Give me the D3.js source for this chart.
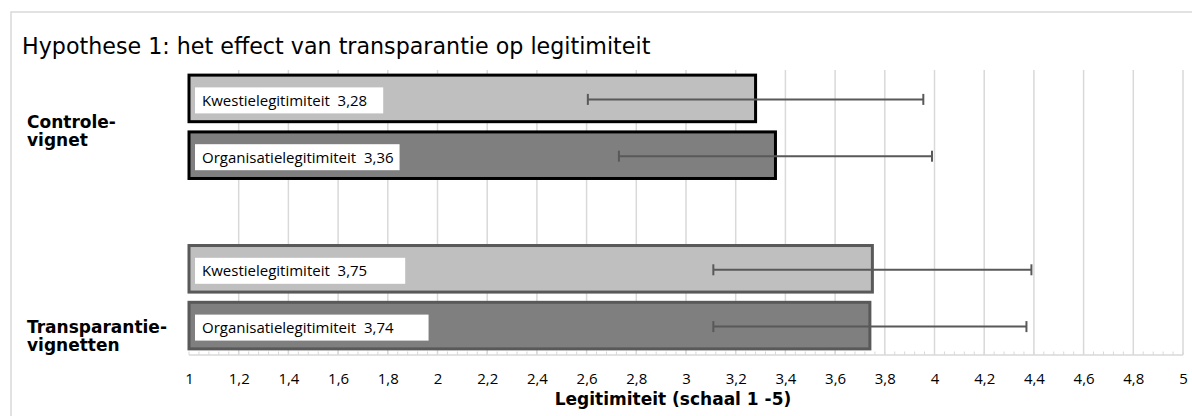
<!DOCTYPE html>
<html>
<head>
<meta charset="utf-8">
<script src="https://cdn.jsdelivr.net/npm/d3@7"></script>
<style>
  html, body { margin: 0; padding: 0; background: #fff; }
  svg { display: block; }
</style>
</head>
<body>
<svg id="chart" width="1192" height="416"></svg>
<script>
// ---- data ----
const title = "Hypothese 1: het effect van transparantie op legitimiteit";
const groups = ["Controle-\nvignet", "Transparantie-\nvignetten"];
const series = ["Kwestielegitimiteit", "Organisatielegitimiteit"];
const controleValues = [3.28, 3.36];
const transparantieValues = [3.75, 3.74];
const controleErrors = [0.675, 0.63];
const transparantieErrors = [0.64, 0.63];
const valueLabels = [["3,28", "3,36"], ["3,75", "3,74"]];
const tickValues = [1, 1.2, 1.4, 1.6, 1.8, 2, 2.2, 2.4, 2.6, 2.8, 3, 3.2, 3.4, 3.6, 3.8, 4, 4.2, 4.4, 4.6, 4.8, 5];
const axisTitle = "Legitimiteit (schaal 1 -5)";

// ---- styles ----
const fills = ["#bfbfbf", "#7f7f7f"];
const groupStroke = ["#000000", "#595959"];
const labelPadRight = [[16, 6], [38, 35]];
const gridColor = "#d9d9d9";
const labelFont = "Open Sans, sans-serif";
const labelSize = 15;

const svg = d3.select("#chart");
const W = 1192, H = 416;
const m = { left: 189, right: 9, top: 70, bottom: 62 };

// frame
svg.append("rect").attr("x", 11).attr("y", 12).attr("width", 1200).attr("height", 420)
  .attr("fill", "#fff").attr("stroke", "#d9d9d9").attr("stroke-width", 1.5);

// title
svg.append("text").attr("x", 22).attr("y", 54)
  .attr("font-family", "DejaVu Sans, Verdana, sans-serif").attr("font-size", 22.2)
  .attr("fill", "#000").text(title);

const x = d3.scaleLinear().domain([1, 5]).range([m.left, W - m.right]);

// build rows
const rows = [];
[controleValues, transparantieValues].forEach((vals, gi) => {
  vals.forEach((v, si) => {
    rows.push({
      key: gi + "-" + si, group: gi, series: si, value: v,
      err: gi === 0 ? controleErrors[si] : transparantieErrors[si],
      label: series[si] + "\u00a0\u00a0" + valueLabels[gi][si]
    });
  });
});
const slots = ["0-0", "0-1", "gap", "1-0", "1-1"];
const y = d3.scaleBand().domain(slots).range([m.top, H - m.bottom]).paddingInner(0.18).paddingOuter(0.09);

const axisY = H - m.bottom + 1;

// gridlines
svg.append("g").selectAll("line").data(tickValues.slice(1)).join("line")
  .attr("x1", d => x(d)).attr("x2", d => x(d))
  .attr("y1", m.top).attr("y2", axisY)
  .attr("stroke", gridColor).attr("stroke-width", 1.5);

// axis
const minor = d3.range(1, 5.0001, 0.04);
const axisG = svg.append("g").attr("transform", `translate(0,${axisY})`);
axisG.append("line").attr("x1", x(1)).attr("x2", x(5)).attr("stroke", gridColor).attr("stroke-width", 1.5);
axisG.selectAll("line.minor").data(minor).join("line").attr("class", "minor")
  .attr("x1", d => x(d)).attr("x2", d => x(d)).attr("y1", 0).attr("y2", -3.5)
  .attr("stroke", gridColor).attr("stroke-width", 1);

const tickAxis = d3.axisBottom(x).tickValues(tickValues).tickSize(0).tickPadding(0)
  .tickFormat(d => String(d).replace(".", ","));
const tg = svg.append("g").attr("transform", `translate(0,${axisY + 18})`).call(tickAxis);
tg.select(".domain").remove();
tg.selectAll("text").attr("font-family", labelFont).attr("font-size", 15).attr("fill", "#000")
  .attr("dy", "0.71em");

svg.append("text").attr("x", 673).attr("y", 405).attr("text-anchor", "middle")
  .attr("font-family", "DejaVu Sans, Verdana, sans-serif").attr("font-weight", "bold").attr("font-size", 17)
  .attr("fill", "#000").text(axisTitle);

// bars
svg.append("g").selectAll("rect").data(rows).join("rect")
  .attr("x", x(1)).attr("y", d => y(d.key))
  .attr("width", d => x(d.value) - x(1)).attr("height", y.bandwidth())
  .attr("fill", d => fills[d.series]).attr("stroke", d => groupStroke[d.group]).attr("stroke-width", 3);

// error bars
const eg = svg.append("g").attr("stroke", "#595959").attr("stroke-width", 2);
rows.forEach(d => {
  const cy = y(d.key) + y.bandwidth() / 2 + 1;
  eg.append("line").attr("x1", x(d.value - d.err)).attr("x2", x(d.value + d.err)).attr("y1", cy).attr("y2", cy);
  [d.value - d.err, d.value + d.err].forEach(v => {
    eg.append("line").attr("x1", x(v)).attr("x2", x(v)).attr("y1", cy - 5.5).attr("y2", cy + 5.5);
  });
});

// labels
rows.forEach(d => {
  const cy = y(d.key) + y.bandwidth() / 2 + 2;
  const g = svg.append("g");
  const bg = g.append("rect").attr("fill", "#fff");
  const t = g.append("text").attr("x", x(1) + 13).attr("y", cy).attr("dy", "0.36em")
    .attr("font-family", labelFont).attr("font-size", labelSize).attr("fill", "#000").text(d.label);
  const w = t.node().getComputedTextLength();
  bg.attr("x", x(1) + 6).attr("y", cy - 13).attr("height", 26)
    .attr("width", w + 7 + labelPadRight[d.group][d.series]);
});

// group labels
groups.forEach((gname, gi) => {
  const lines = gname.split("\n");
  const baseY = gi === 0 ? 127.5 : 333;
  const t = svg.append("text").attr("x", 27).attr("y", baseY)
    .attr("font-family", "DejaVu Sans, Verdana, sans-serif").attr("font-weight", "bold").attr("font-size", 17)
    .attr("fill", "#000");
  lines.forEach((l, i) => t.append("tspan").attr("x", 27).attr("dy", i === 0 ? 0 : 18).text(l));
});
</script>
</body>
</html>
